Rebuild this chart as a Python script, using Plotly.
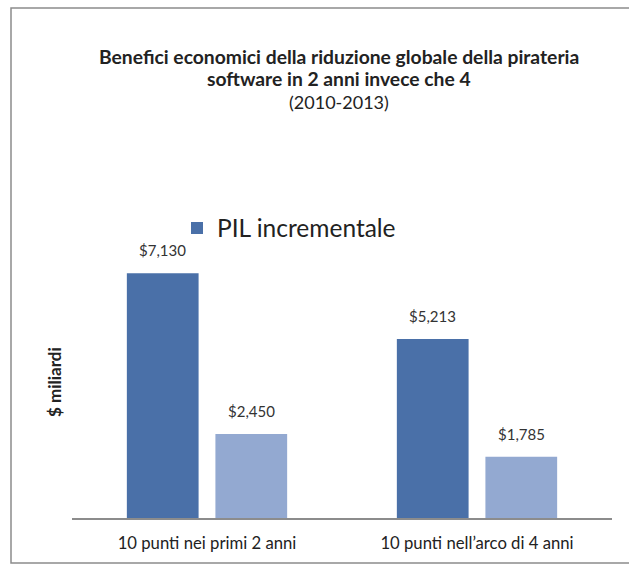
import plotly.graph_objects as go

categories = ["10 punti nei primi 2 anni", "10 punti nell\u2019arco di 4 anni"]
pil_incrementale = [7130, 5213]
seconda_serie = [2450, 1785]

title_line1 = "Benefici economici della riduzione globale della pirateria"
title_line2 = "software in 2 anni invece che 4"
title_line3 = "(2010-2013)"
y_title = "$ miliardi"

W, H = 629, 565
ML, MR, MT, MB = 72, 17, 209, 47
PW, PH = W - ML - MR, H - MT - MB
BARGAP, BARGROUPGAP = 0.344, 0.19

def px_x(p):
    return (p - ML) / PW

def px_y(p):
    return (H - MB - p) / PH

font_family = "Lato, 'Open Sans', sans-serif"

fig = go.Figure()
fig.add_trace(go.Bar(
    x=list(range(len(categories))), y=pil_incrementale, name="PIL incrementale",
    marker=dict(color="#4A70A8", line=dict(width=0)),
))
fig.add_trace(go.Bar(
    x=list(range(len(categories))), y=seconda_serie, name="",
    marker=dict(color="#93A9D1", line=dict(width=0)),
    showlegend=False,
))

# value labels placed above each bar via the data axes
slot = (1 - BARGAP) / 2
annotations = []
for series, off in ((pil_incrementale, -slot / 2), (seconda_serie, slot / 2)):
    for i, v in enumerate(series):
        annotations.append(dict(
            text="$" + f"{v:,}", x=i + off, y=v, xref="x", yref="y",
            showarrow=False, yanchor="bottom", yshift=12,
            font=dict(size=15, color="#333333", family=font_family)))

annotations += [
    dict(text="<b>" + title_line1 + "</b>", x=px_x(339), y=px_y(56),
         xref="paper", yref="paper", showarrow=False, yanchor="middle",
         font=dict(size=19.3, color="#222222", family=font_family)),
    dict(text="<b>" + title_line2 + "</b>", x=px_x(339), y=px_y(79),
         xref="paper", yref="paper", showarrow=False, yanchor="middle",
         font=dict(size=19.3, color="#222222", family=font_family)),
    dict(text=title_line3, x=px_x(339), y=px_y(102),
         xref="paper", yref="paper", showarrow=False, yanchor="middle",
         font=dict(size=18, color="#222222", family=font_family)),
    dict(text="<b>" + y_title + "</b>", x=px_x(54), y=px_y(382),
         xref="paper", yref="paper", showarrow=False, textangle=-90,
         xanchor="center", yanchor="middle",
         font=dict(size=17, color="#222222", family=font_family)),
]

fig.update_layout(
    width=W, height=H,
    margin=dict(l=ML, r=MR, t=MT, b=MB, autoexpand=False),
    paper_bgcolor="white", plot_bgcolor="white",
    barmode="group", bargap=BARGAP, bargroupgap=BARGROUPGAP,
    font=dict(family=font_family, color="#222222"),
    showlegend=True,
    legend=dict(x=px_x(177), y=px_y(228), xanchor="left", yanchor="middle",
                font=dict(size=24.5, color="#222222", family=font_family),
                bgcolor="rgba(0,0,0,0)", itemwidth=30, itemsizing="constant"),
    xaxis=dict(showline=True, linecolor="#8C8C8C", linewidth=1.5, ticks="",
               tickmode="array", tickvals=list(range(len(categories))),
               ticktext=categories, range=[-0.5, len(categories) - 0.5],
               ticklabelstandoff=9, automargin=False,
               tickfont=dict(size=16.7, color="#222222", family=font_family),
               showgrid=False, zeroline=False),
    yaxis=dict(range=[0, 9000], showticklabels=False, showgrid=False,
               zeroline=False, showline=False, ticks="", automargin=False),
    annotations=annotations,
    shapes=[
        dict(type="rect", xref="paper", yref="paper",
             x0=px_x(11), x1=px_x(660), y0=px_y(563), y1=px_y(8),
             line=dict(color="#8C8C8C", width=1.5), fillcolor="rgba(0,0,0,0)",
             layer="below"),
    ],
)

fig.write_html("out.html")
